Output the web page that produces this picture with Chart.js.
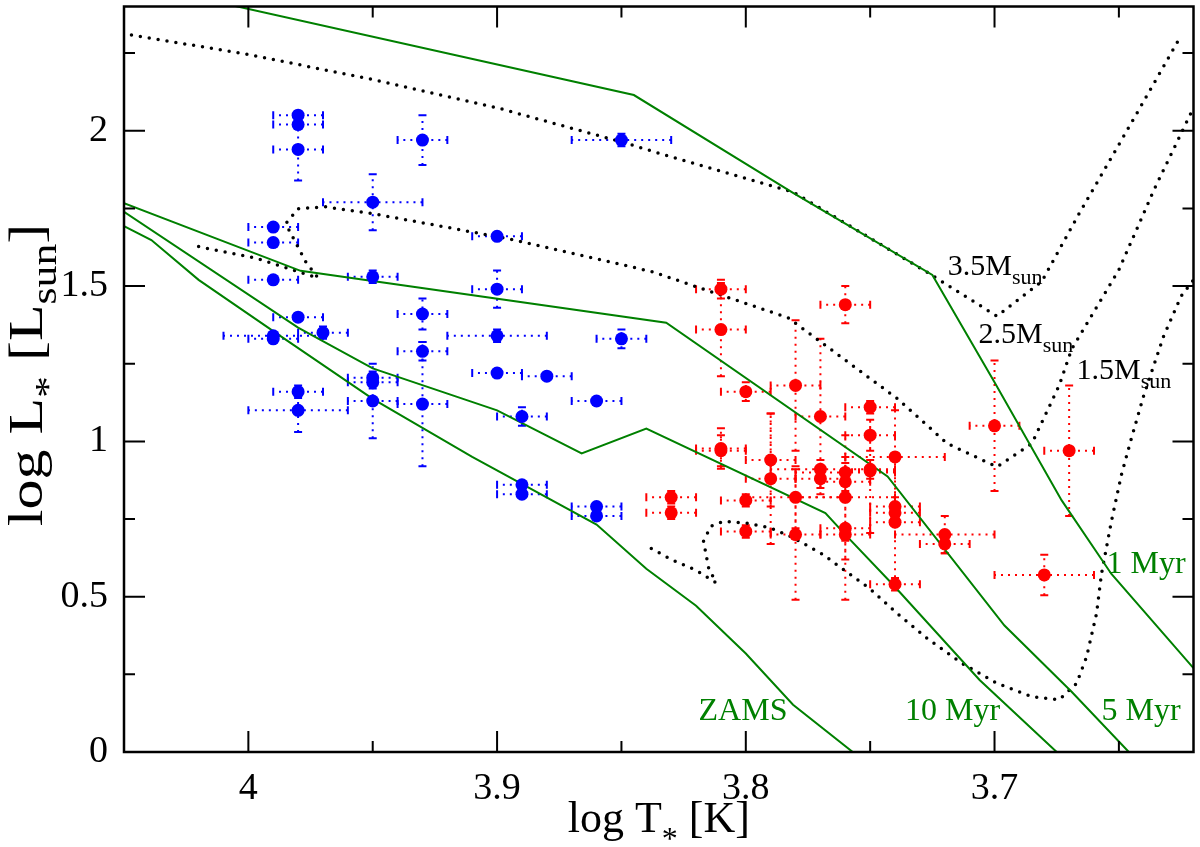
<!DOCTYPE html>
<html>
<head>
<meta charset="utf-8">
<script src="https://cdn.jsdelivr.net/npm/chart.js@4.4.0/dist/chart.umd.min.js"></script>
<style>
  html, body { margin: 0; padding: 0; background: #fff; }
  canvas { display: block; }
</style>
</head>
<body>
<canvas id="hrd" width="1200" height="847"></canvas>
<script>
// blue stars: log T, log L and errors
var blueT    = [3.98, 3.98, 3.98, 3.93, 3.85, 3.95, 3.99, 3.99, 3.90, 3.99, 3.95, 3.90, 3.93, 3.98, 3.97, 3.99, 3.99, 3.90, 3.93, 3.85, 3.90, 3.88, 3.95, 3.95, 3.95, 3.98, 3.98, 3.93, 3.86, 3.89, 3.89, 3.89, 3.86, 3.86];
var blueL    = [2.05, 2.02, 1.94, 1.97, 1.97, 1.77, 1.69, 1.64, 1.66, 1.52, 1.53, 1.49, 1.41, 1.40, 1.35, 1.34, 1.33, 1.34, 1.29, 1.33, 1.22, 1.21, 1.205, 1.19, 1.13, 1.16, 1.10, 1.12, 1.13, 1.08, 0.86, 0.83, 0.79, 0.76];
var blueTerr = [0.01, 0.01, 0.01, 0.01, 0.02, 0.02, 0.01, 0.01, 0.01, 0.01, 0.01, 0.01, 0.01, 0.01, 0.01, 0.02, 0.01, 0.02, 0.01, 0.01, 0.01, 0.01, 0.01, 0.01, 0.01, 0.01, 0.02, 0.01, 0.01, 0.01, 0.01, 0.01, 0.01, 0.01];
var blueLerr = [0.01, 0.01, 0.10, 0.08, 0.02, 0.09, 0.01, 0.01, 0.01, 0.01, 0.02, 0.06, 0.05, 0.01, 0.02, 0.01, 0.01, 0.02, 0.03, 0.03, 0.01, 0.01, 0.02, 0.02, 0.12, 0.02, 0.07, 0.20, 0.01, 0.03, 0.01, 0.01, 0.01, 0.01];

// red stars
var redT    = [3.81, 3.81, 3.76, 3.80, 3.78, 3.75, 3.77, 3.70, 3.67, 3.81, 3.81, 3.79, 3.79, 3.80, 3.83, 3.83, 3.80, 3.78, 3.78, 3.77, 3.77, 3.76, 3.76, 3.76, 3.76, 3.76, 3.75, 3.75, 3.75, 3.74, 3.74, 3.74, 3.74, 3.74, 3.72, 3.72, 3.68];
var redL    = [1.49, 1.36, 1.44, 1.16, 1.18, 1.11, 1.08, 1.05, 0.97, 0.977, 0.97, 0.94, 0.88, 0.81, 0.82, 0.77, 0.71, 0.82, 0.70, 0.91, 0.88, 0.90, 0.87, 0.82, 0.72, 0.70, 1.02, 0.905, 0.91, 0.95, 0.79, 0.77, 0.74, 0.54, 0.70, 0.67, 0.57];
var redTerr = [0.01, 0.01, 0.01, 0.01, 0.01, 0.01, 0.01, 0.01, 0.01, 0.01, 0.01, 0.01, 0.01, 0.01, 0.01, 0.01, 0.01, 0.02, 0.01, 0.02, 0.01, 0.02, 0.01, 0.02, 0.01, 0.01, 0.01, 0.01, 0.01, 0.02, 0.01, 0.01, 0.01, 0.01, 0.02, 0.01, 0.02];
var redLerr = [0.03, 0.15, 0.06, 0.03, 0.21, 0.02, 0.25, 0.21, 0.21, 0.065, 0.05, 0.15, 0.21, 0.02, 0.02, 0.02, 0.02, 0.10, 0.21, 0.03, 0.03, 0.03, 0.03, 0.20, 0.23, 0.02, 0.05, 0.20, 0.03, 0.15, 0.03, 0.03, 0.20, 0.02, 0.06, 0.03, 0.065];

// isochrones
var zamsT  = [4.05, 4.039, 4.02, 3.99, 3.95, 3.91, 3.86, 3.84, 3.82, 3.80, 3.781, 3.757];
var zamsL  = [1.693, 1.648, 1.52, 1.355, 1.137, 0.95, 0.732, 0.59, 0.471, 0.317, 0.152, 0.0];
var myr10T = [4.05, 3.98, 3.95, 3.90, 3.866, 3.84, 3.768, 3.76, 3.741, 3.706, 3.675];
var myr10L = [1.739, 1.366, 1.235, 1.10, 0.961, 1.041, 0.769, 0.70, 0.54, 0.232, 0.0];
var myr5T  = [4.05, 3.979, 3.832, 3.743, 3.696, 3.669, 3.646];
var myr5L  = [1.767, 1.549, 1.382, 0.887, 0.407, 0.194, 0.0];
var myr1T  = [4.01, 3.845, 3.781, 3.725, 3.70, 3.673, 3.653, 3.62];
var myr1L  = [2.41, 2.115, 1.80, 1.536, 1.19, 0.81, 0.573, 0.27];

// evolutionary tracks
var m35T = [4.047, 4.001, 3.95, 3.90, 3.849, 3.838, 3.781, 3.727, 3.699, 3.681, 3.666, 3.643, 3.626];
var m35L = [2.308, 2.247, 2.165, 2.074, 1.962, 1.935, 1.803, 1.544, 1.403, 1.515, 1.733, 2.053, 2.292];
var m25T = [4.02, 3.997, 3.972, 3.977, 3.985, 3.980, 3.969, 3.95, 3.914, 3.893, 3.838, 3.783, 3.739, 3.719, 3.699, 3.685, 3.674, 3.669, 3.65, 3.636, 3.62];
var m25L = [1.627, 1.59, 1.526, 1.579, 1.701, 1.749, 1.755, 1.733, 1.68, 1.648, 1.547, 1.398, 1.137, 0.993, 0.918, 0.993, 1.18, 1.297, 1.552, 1.808, 2.074];
var m15T = [3.838, 3.830, 3.820, 3.812, 3.815, 3.817, 3.814, 3.809, 3.800, 3.790, 3.781, 3.769, 3.760, 3.750, 3.739, 3.727, 3.713, 3.699, 3.685, 3.674, 3.667, 3.663, 3.659, 3.657, 3.653, 3.649, 3.645, 3.640, 3.632, 3.625, 3.62];
var m15L = [0.655, 0.62, 0.585, 0.545, 0.594, 0.679, 0.727, 0.743, 0.737, 0.721, 0.69, 0.636, 0.583, 0.525, 0.445, 0.365, 0.285, 0.221, 0.178, 0.168, 0.221, 0.306, 0.445, 0.573, 0.743, 0.892, 1.009, 1.148, 1.339, 1.467, 1.52];

var xTicks = [4, 3.9, 3.8, 3.7];
var xMinor = [3.95, 3.85, 3.75, 3.65];
var yTicks = [0, 0.5, 1, 1.5, 2];
var yMinor = [0.25, 0.75, 1.25, 1.75, 2.25];

var SERIF = '"Liberation Serif", "Times New Roman", serif';
var GREEN = '#008000';

function pts(xs, ys) {
    return xs.map(function (x, i) { return { x: x, y: ys[i] }; });
}

// text with subscripts: parts = [[text, subscriptDrop], ...]
function drawRich(c, parts, x, y, size, center) {
    var big = size + 'px ' + SERIF, small = Math.round(size * 0.72) + 'px ' + SERIF;
    var w = 0;
    parts.forEach(function (p) { c.font = p[1] ? small : big; w += c.measureText(p[0]).width; });
    var cx = center ? x - w / 2 : x;
    parts.forEach(function (p) {
        c.font = p[1] ? small : big;
        c.fillText(p[0], cx, y + (p[1] ? size * p[1] : 0));
        cx += c.measureText(p[0]).width;
    });
}

var errorBars = {
    id: 'errorBars',
    beforeDatasetsDraw: function (chart) {
        var c = chart.ctx, xs = chart.scales.x, ys = chart.scales.y, a = chart.chartArea;
        c.save();
        c.beginPath();
        c.rect(a.left, a.top, a.right - a.left, a.bottom - a.top);
        c.clip();
        c.lineWidth = 2;
        [[blueT, blueL, blueTerr, blueLerr, '#0000ff'], [redT, redL, redTerr, redLerr, '#ff0000']].forEach(function (s) {
            c.strokeStyle = s[4];
            for (var i = 0; i < s[0].length; i++) {
                var px = xs.getPixelForValue(s[0][i]), py = ys.getPixelForValue(s[1][i]);
                var x1 = xs.getPixelForValue(s[0][i] - s[2][i]), x2 = xs.getPixelForValue(s[0][i] + s[2][i]);
                var y1 = ys.getPixelForValue(s[1][i] - s[3][i]), y2 = ys.getPixelForValue(s[1][i] + s[3][i]);
                c.setLineDash([2, 5]);
                c.beginPath();
                c.moveTo(x1, py); c.lineTo(x2, py);
                c.moveTo(px, y1); c.lineTo(px, y2);
                c.stroke();
                c.setLineDash([]);
                c.beginPath();
                c.moveTo(x1, py - 4); c.lineTo(x1, py + 4);
                c.moveTo(x2, py - 4); c.lineTo(x2, py + 4);
                c.moveTo(px - 4, y1); c.lineTo(px + 4, y1);
                c.moveTo(px - 4, y2); c.lineTo(px + 4, y2);
                c.stroke();
            }
        });
        c.restore();
    }
};

var frame = {
    id: 'frame',
    afterDatasetsDraw: function (chart) {
        var c = chart.ctx, xs = chart.scales.x, ys = chart.scales.y, a = chart.chartArea;
        c.save();
        c.strokeStyle = '#000';
        c.lineWidth = 2;
        c.beginPath();
        function tx(v, len) {
            var p = xs.getPixelForValue(v);
            c.moveTo(p, a.bottom); c.lineTo(p, a.bottom - len);
            c.moveTo(p, a.top); c.lineTo(p, a.top + len);
        }
        function ty(v, len) {
            var p = ys.getPixelForValue(v);
            c.moveTo(a.left, p); c.lineTo(a.left + len, p);
            c.moveTo(a.right, p); c.lineTo(a.right - len, p);
        }
        xTicks.forEach(function (v) { tx(v, 21); });
        xMinor.forEach(function (v) { tx(v, 11); });
        yTicks.forEach(function (v) { ty(v, 21); });
        yMinor.forEach(function (v) { ty(v, 11); });
        c.stroke();
        c.lineWidth = 2.5;
        c.strokeRect(a.left, a.top, a.right - a.left, a.bottom - a.top);

        // labels on the curves
        function at(t, l) { return [xs.getPixelForValue(t), ys.getPixelForValue(l)]; }
        c.fillStyle = '#000';
        var p = at(3.7188, 1.535);
        drawRich(c, [['3.5M'], ['sun', 0.3]], p[0], p[1], 30);
        p = at(3.7064, 1.318);
        drawRich(c, [['2.5M'], ['sun', 0.3]], p[0], p[1], 30);
        p = at(3.667, 1.20);
        drawRich(c, [['1.5M'], ['sun', 0.3]], p[0], p[1], 30);
        c.fillStyle = GREEN;
        p = at(3.819, 0.104);
        drawRich(c, [['ZAMS']], p[0], p[1], 32);
        p = at(3.736, 0.104);
        drawRich(c, [['10 Myr']], p[0], p[1], 32);
        p = at(3.657, 0.104);
        drawRich(c, [['5 Myr']], p[0], p[1], 32);
        p = at(3.655, 0.577);
        drawRich(c, [['1 Myr']], p[0], p[1], 32);

        // axis titles
        c.fillStyle = '#000';
        drawRich(c, [['log T'], ['*', 0.38], [' [K]']], (a.left + a.right) / 2, 832, 44, true);
        c.translate(42, 375);
        c.rotate(-Math.PI / 2);
        c.scale(1.25, 1);
        drawRich(c, [['log L'], ['*', 0.38], [' [L'], ['sun', 0.3], [']']], 0, 0, 48, true);
        c.restore();
    }
};

function lineSet(xs, ys, dotted) {
    return {
        data: pts(xs, ys),
        showLine: true,
        borderColor: dotted ? '#000' : GREEN,
        borderWidth: dotted ? 3.5 : 2,
        borderDash: dotted ? [0, 9] : [],
        borderCapStyle: dotted ? 'round' : 'butt',
        pointRadius: 0,
        tension: 0,
        fill: false
    };
}

var ctx = document.getElementById('hrd').getContext('2d');
var hrd = new Chart(ctx, {
    type: 'scatter',
    data: {
        datasets: [
            { data: pts(blueT, blueL), pointRadius: 6.5, pointBackgroundColor: '#0000ff', pointBorderWidth: 0 },
            { data: pts(redT, redL), pointRadius: 6.5, pointBackgroundColor: '#ff0000', pointBorderWidth: 0 },
            lineSet(zamsT, zamsL), lineSet(myr10T, myr10L), lineSet(myr5T, myr5L), lineSet(myr1T, myr1L),
            lineSet(m35T, m35L, true), lineSet(m25T, m25L, true), lineSet(m15T, m15L, true)
        ]
    },
    options: {
        responsive: false,
        animation: false,
        devicePixelRatio: 1,
        layout: { padding: { top: 2, right: 3, left: 0, bottom: 0 } },
        plugins: { legend: { display: false }, tooltip: { enabled: false } },
        scales: {
            x: {
                type: 'linear', reverse: true, min: 3.62, max: 4.05,
                grid: { display: false }, border: { display: false },
                afterBuildTicks: function (s) { s.ticks = xTicks.map(function (v) { return { value: v }; }); },
                afterFit: function (s) { s.height = 95; s.paddingLeft = 0; s.paddingRight = 0; },
                ticks: { color: '#000', padding: 6, maxRotation: 0, font: { family: SERIF, size: 38 },
                         callback: function (v) { return String(v); } }
            },
            y: {
                type: 'linear', min: 0, max: 2.4,
                grid: { display: false }, border: { display: false },
                afterBuildTicks: function (s) { s.ticks = yTicks.map(function (v) { return { value: v }; }); },
                afterFit: function (s) { s.width = 124; s.paddingTop = 0; s.paddingBottom = 0; },
                ticks: { color: '#000', padding: 8, font: { family: SERIF, size: 38 },
                         callback: function (v) { return String(v); } }
            }
        }
    },
    plugins: [errorBars, frame]
});
</script>
</body>
</html>
